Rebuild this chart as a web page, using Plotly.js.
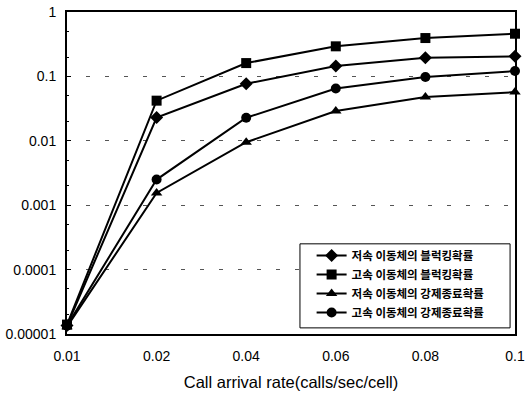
<!DOCTYPE html>
<html>
<head>
<meta charset="utf-8">
<script src="https://cdn.plot.ly/plotly-3.0.1.min.js"></script>
<style>html,body{margin:0;padding:0;background:#fff;}#chart{width:530px;height:397px;}</style>
</head>
<body>
<div id="chart"></div>
<script>
const categories = ['0.01', '0.02', '0.04', '0.06', '0.08', '0.1'];
const lowBlocking = [0.0000135, 0.023, 0.077, 0.145, 0.195, 0.205];
const highBlocking = [0.0000140, 0.042, 0.161, 0.293, 0.394, 0.46];
const lowForced = [0.0000130, 0.00155, 0.0095, 0.029, 0.048, 0.057];
const highForced = [0.0000135, 0.0025, 0.0228, 0.065, 0.098, 0.121];
const seriesNames = ['저속 이동체의 블럭킹확률', '고속 이동체의 블럭킹확률', '저속 이동체의 강제종료확률', '고속 이동체의 강제종료확률'];
const yTickVals = [0.00001, 0.0001, 0.001, 0.01, 0.1, 1];
const yTickText = ['0.00001', '0.0001', '0.001', '0.01', '0.1', '1'];

const seriesData = [lowBlocking, highBlocking, lowForced, highForced];
const symbols = ['diamond', 'square', 'triangle-up', 'circle'];
const sizes = [10, 10, 10, 10];

const traces = seriesData.map((vals, i) => ({
  x: categories,
  y: vals,
  name: seriesNames[i],
  type: 'scatter',
  mode: 'lines+markers',
  line: {color: '#000', width: 2},
  marker: {symbol: symbols[i], size: sizes[i], color: '#000'},
  cliponaxis: false
}));

const narrow = 'Liberation Sans Narrow, Liberation Sans, Arial, sans-serif';
const axisFont = {family: narrow, size: 14, color: '#000'};

const layout = {
  width: 530,
  height: 397,
  margin: {l: 67, r: 15, t: 12, b: 63},
  paper_bgcolor: '#fff',
  plot_bgcolor: '#fff',
  showlegend: true,
  legend: {
    x: 0.546, y: 0.289, xanchor: 'left', yanchor: 'top',
    bgcolor: 'rgba(0,0,0,0)', borderwidth: 0,
    font: {family: 'Noto Sans CJK KR, sans-serif', size: 11.5, color: '#000', weight: 'bold'},
    tracegroupgap: 0
  },
  shapes: [{
    type: 'rect', xref: 'paper', yref: 'paper',
    x0: 0.52, x1: 0.989, y0: 0.019, y1: 0.28,
    line: {color: '#000', width: 1}, fillcolor: '#fff', layer: 'above'
  }],
  xaxis: {
    type: 'category',
    range: [0, 5],
    showgrid: false,
    showline: true, mirror: true, linecolor: '#000', linewidth: 2,
    ticks: '', tickfont: axisFont, ticklabelstandoff: 8,
    title: {text: 'Call arrival rate(calls/sec/cell)', font: {family: narrow, size: 16.5, color: '#000'}, standoff: 14},
    zeroline: false
  },
  yaxis: {
    type: 'log',
    range: [-5, 0],
    tickvals: yTickVals,
    ticktext: yTickText,
    tickfont: axisFont, ticklabelstandoff: 6,
    ticks: 'inside', ticklen: 4, tickcolor: '#000',
    minor: {ticks: 'inside', ticklen: 2, tickcolor: '#000', showgrid: false},
    showgrid: true, gridcolor: '#555', gridwidth: 1, griddash: '4px,15px',
    showline: true, mirror: true, linecolor: '#000', linewidth: 2,
    zeroline: false
  }
};

Plotly.newPlot('chart', traces, layout, {displayModeBar: false, staticPlot: true});
</script>
</body>
</html>
